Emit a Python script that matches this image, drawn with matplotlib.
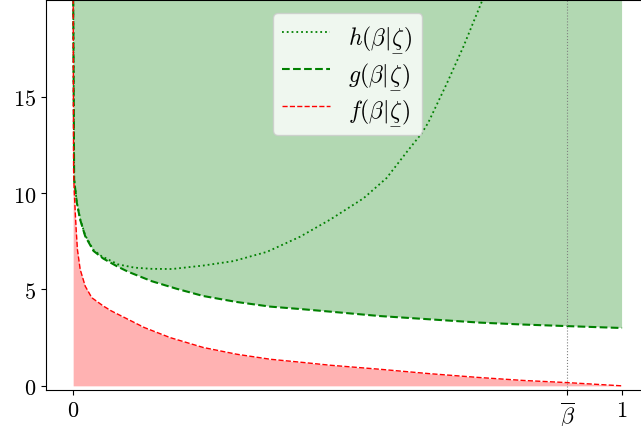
import matplotlib
matplotlib.use("Agg")
import matplotlib.pyplot as plt

plt.rcParams["mathtext.fontset"] = "cm"
plt.rcParams["font.family"] = "serif"

# f(beta | zeta): lower bound curve
f_beta = [1e-6, 0.0008, 0.0018, 0.0036, 0.0055, 0.0078, 0.0128, 0.022, 0.034,
          0.055, 0.07, 0.1, 0.13, 0.177, 0.237, 0.298, 0.359, 0.42, 0.468,
          0.559, 0.65, 0.741, 0.82, 0.899, 1.0]
f_vals = [21.0, 11.2, 10.2, 9.14, 8.1, 7.07, 6.04, 5.17, 4.57,
          4.14, 3.88, 3.45, 3.02, 2.5, 1.99, 1.64, 1.38, 1.21, 1.07,
          0.86, 0.63, 0.43, 0.28, 0.17, 0.0]

# g(beta | zeta): upper bound curve
g_beta = [1e-6, 0.0018, 0.0067, 0.0128, 0.022, 0.037, 0.055, 0.08, 0.1, 0.143,
          0.188, 0.237, 0.298, 0.359, 0.42, 0.468, 0.559, 0.65, 0.741, 0.82,
          0.899, 1.0]
g_vals = [21.0, 10.7, 9.49, 8.62, 7.76, 7.0, 6.6, 6.2, 5.92, 5.43,
          5.04, 4.66, 4.35, 4.11, 3.97, 3.85, 3.62, 3.45, 3.28, 3.18,
          3.1, 3.0]

# h(beta | zeta)
h_beta = [1e-6, 0.0018, 0.0067, 0.0128, 0.022, 0.037, 0.0515, 0.082, 0.112,
          0.143, 0.18, 0.237, 0.292, 0.353, 0.413, 0.468, 0.529, 0.571, 0.608,
          0.635, 0.647, 0.681, 0.711, 0.744, 0.76]
h_vals = [21.0, 10.72, 9.51, 8.65, 7.8, 7.05, 6.73, 6.3, 6.13,
          6.07, 6.06, 6.24, 6.47, 6.95, 7.73, 8.62, 9.73, 10.78, 12.14,
          13.1, 13.66, 15.7, 17.6, 19.9, 21.2]

beta_bar = 0.9
x_ticks = [0, beta_bar, 1]
x_tick_labels = ["$0$", r"$\overline{\beta}$", "$1$"]
y_ticks = [0, 5, 10, 15]
y_tick_labels = ["$0$", "$5$", "$10$", "$15$"]

zeta = r"\underset{-}{\zeta}"
labels = [rf"$h(\beta|{zeta})$", rf"$g(\beta|{zeta})$", rf"$f(\beta|{zeta})$"]

fig = plt.figure(figsize=(6.41, 4.27), dpi=100)
ax = fig.add_axes([0.0713, 0.085, 0.942, 0.912])

top = 30
ax.fill_between(g_beta, g_vals, top, color="green", alpha=0.3, linewidth=0)
ax.fill_between(f_beta, 0, f_vals, color="red", alpha=0.3, linewidth=0)

lh, = ax.plot(h_beta, h_vals, ":", color="green", lw=1.3, label=labels[0])
lg, = ax.plot(g_beta, g_vals, "--", color="green", lw=1.5, label=labels[1])
lf, = ax.plot(f_beta, f_vals, "--", color="red", lw=1.0, label=labels[2])

ax.axvline(beta_bar, color="gray", ls=":", lw=0.8)

ax.set_xlim(-0.05, 1.05)
ax.set_ylim(-0.2, 20.0)
ax.set_xticks(x_ticks, x_tick_labels, fontsize=16)
ax.set_yticks(y_ticks, y_tick_labels, fontsize=16)

ax.legend(handles=[lh, lg, lf], loc="upper center", fontsize=17,
          labelspacing=0.3, borderaxespad=0.55)

fig.savefig("out.png", dpi=100)
